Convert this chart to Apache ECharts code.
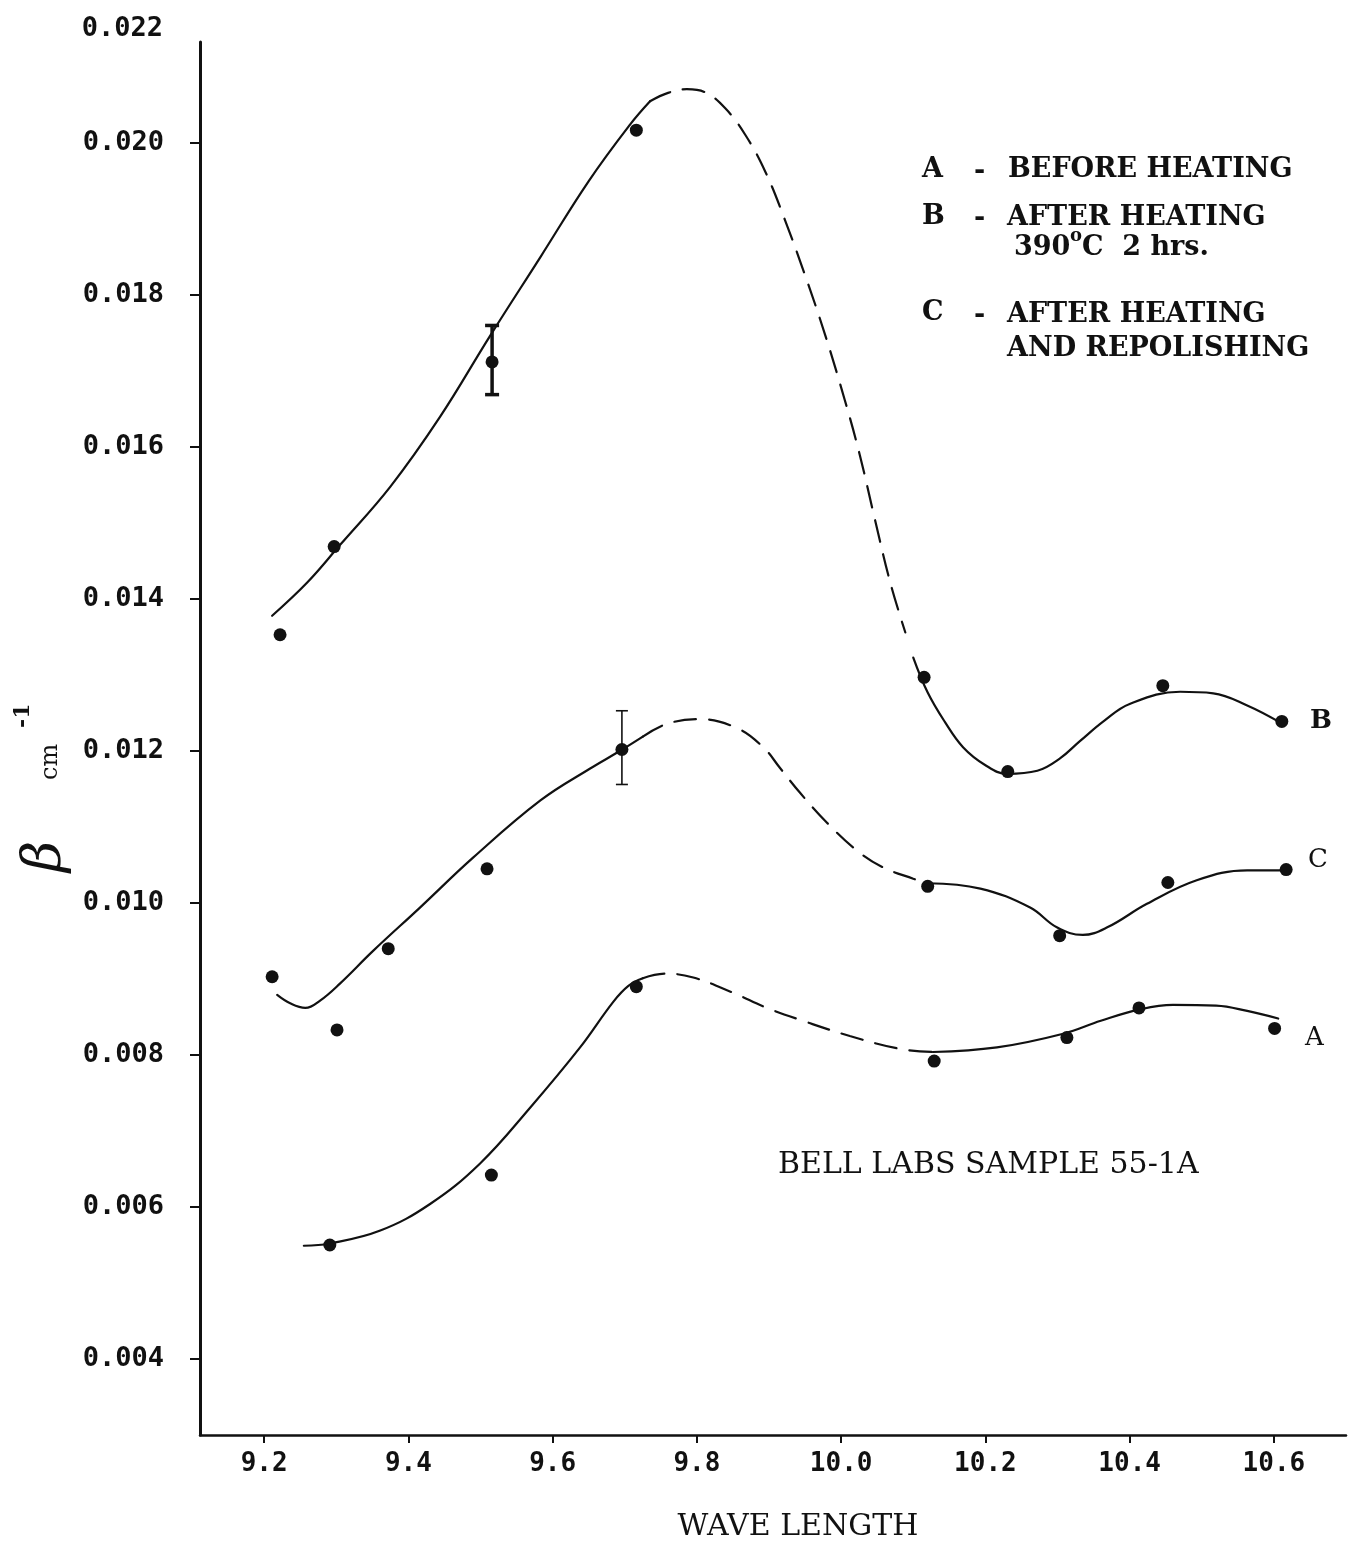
<!DOCTYPE html>
<html>
<head>
<meta charset="utf-8">
<script src="https://cdn.jsdelivr.net/npm/echarts@6/dist/echarts.min.js"></script>
<style>
  html, body { margin: 0; padding: 0; background: #fff; }
  #chart { width: 1352px; height: 1542px; }
</style>
</head>
<body>
<div id="chart"></div>
<script>
// Absorption coefficient β (cm^-1) against wave length, Bell Labs sample 55-1A

// axis ticks
const xTicks = [9.2, 9.4, 9.6, 9.8, 10.0, 10.2, 10.4, 10.6];
const yTicks = [0.004, 0.006, 0.008, 0.010, 0.012, 0.014, 0.016, 0.018, 0.020];
const yTopLabel = '0.022';

// measured points [wave length, β]
const pointsA = [[9.291, 0.00550], [9.515, 0.00642], [9.716, 0.00890], [10.129, 0.00792],
                 [10.313, 0.00823], [10.413, 0.00862], [10.601, 0.00835]];
const pointsB = [[9.222, 0.01353], [9.297, 0.01469], [9.516, 0.01712], [9.716, 0.02017],
                 [10.115, 0.01297], [10.231, 0.01173], [10.446, 0.01286], [10.611, 0.01239]];
const pointsC = [[9.211, 0.00903], [9.301, 0.00833], [9.372, 0.00940], [9.509, 0.01045],
                 [9.696, 0.01202], [10.120, 0.01022], [10.303, 0.00957], [10.453, 0.01027],
                 [10.617, 0.01044]];

// error bars [wave length, low, high]
const errorB = [[9.516, 0.01669, 0.01760]];
const errorC = [[9.696, 0.01156, 0.01253]];

// hand-fitted curves: solid where measured, dashed across the gap
const curveB1 = [[9.211, 0.01378], [9.260, 0.01422], [9.305, 0.01471], [9.375, 0.01548],
                 [9.444, 0.01640], [9.513, 0.01746], [9.583, 0.01850], [9.650, 0.01950],
                 [9.707, 0.02024], [9.735, 0.02055]];
const curveB2 = [[9.735, 0.02055], [9.760, 0.02066], [9.786, 0.02071], [9.811, 0.02067],
                 [9.839, 0.02046], [9.867, 0.02011], [9.895, 0.01962], [9.922, 0.01899],
                 [9.950, 0.01826], [9.978, 0.01747], [10.005, 0.01662], [10.026, 0.01589],
                 [10.047, 0.01504], [10.068, 0.01422], [10.089, 0.01356]];
const curveB3 = [[10.100, 0.01323], [10.120, 0.01277], [10.144, 0.01238], [10.169, 0.01205],
                 [10.199, 0.01182], [10.230, 0.01170], [10.272, 0.01174], [10.303, 0.01190],
                 [10.331, 0.01213], [10.365, 0.01240], [10.400, 0.01262], [10.470, 0.01278],
                 [10.516, 0.01276], [10.563, 0.01260], [10.608, 0.01238]];

const curveC1 = [[9.218, 0.00879], [9.236, 0.00868], [9.257, 0.00862], [9.278, 0.00872],
                 [9.305, 0.00894], [9.351, 0.00937], [9.416, 0.00994], [9.490, 0.01060],
                 [9.583, 0.01135], [9.652, 0.01177], [9.693, 0.01200], [9.725, 0.01219]];
const curveC2 = [[9.725, 0.01219], [9.759, 0.01236], [9.804, 0.01242], [9.856, 0.01230],
                 [9.892, 0.01205], [9.915, 0.01178], [9.943, 0.01145], [9.980, 0.01106],
                 [10.022, 0.01069], [10.058, 0.01047], [10.100, 0.01032], [10.120, 0.01026]];
const curveC3 = [[10.120, 0.01026], [10.193, 0.01019], [10.262, 0.00994], [10.299, 0.00968],
                 [10.335, 0.00958], [10.369, 0.00968], [10.424, 0.00999], [10.493, 0.01030],
                 [10.563, 0.01043], [10.613, 0.01043]];

const curveA1 = [[9.255, 0.00549], [9.291, 0.00552], [9.361, 0.00569], [9.430, 0.00604],
                 [9.499, 0.00657], [9.569, 0.00731], [9.638, 0.00810], [9.684, 0.00870],
                 [9.705, 0.00891], [9.725, 0.00901]];
const curveA2 = [[9.725, 0.00901], [9.756, 0.00907], [9.795, 0.00902], [9.850, 0.00882],
                 [9.897, 0.00862], [9.947, 0.00845], [10.012, 0.00825], [10.082, 0.00808],
                 [10.127, 0.00804]];
const curveA3 = [[10.127, 0.00804], [10.216, 0.00810], [10.308, 0.00828], [10.360, 0.00845],
                 [10.414, 0.00860], [10.460, 0.00866], [10.520, 0.00865], [10.563, 0.00858],
                 [10.606, 0.00848]];

const INK = '#111111';
const monoBold = '"DejaVu Sans Mono", monospace';
const serif = '"DejaVu Serif", serif';

function curve(data, dashed) {
  return {
    type: 'line', data, smooth: 0.4, symbol: 'none', silent: true, z: 2,
    lineStyle: { color: INK, width: 2.2, type: dashed ? [22, 13] : 'solid', cap: 'round' }
  };
}

function dots(data) {
  return {
    type: 'scatter', data, symbol: 'circle', symbolSize: 13, silent: true, z: 3,
    itemStyle: { color: INK, opacity: 1 }
  };
}

function errorBars(data, lineWidth, capHalf) {
  return {
    type: 'custom', data, silent: true, z: 4,
    encode: { x: 0, y: [1, 2] },
    renderItem: function (params, api) {
      const x = api.value(0);
      const lo = api.coord([x, api.value(1)]);
      const hi = api.coord([x, api.value(2)]);
      const style = { stroke: INK, lineWidth: lineWidth };
      return {
        type: 'group',
        children: [
          { type: 'line', shape: { x1: lo[0], y1: lo[1], x2: hi[0], y2: hi[1] }, style },
          { type: 'line', shape: { x1: lo[0] - capHalf, y1: lo[1], x2: lo[0] + capHalf, y2: lo[1] }, style },
          { type: 'line', shape: { x1: hi[0] - capHalf, y1: hi[1], x2: hi[0] + capHalf, y2: hi[1] }, style }
        ]
      };
    }
  };
}

function label(text, x, y, font, align) {
  return {
    type: 'text', x, y, silent: true,
    style: { text, font, fill: INK, verticalAlign: 'middle', align: align || 'left' }
  };
}

const legendFont = 'bold 27px ' + serif;

const chart = echarts.init(document.getElementById('chart'));
chart.setOption({
  animation: false,
  backgroundColor: '#fff',
  grid: { left: 200, right: 6, top: 42, bottom: 107 },
  xAxis: {
    type: 'value', min: 9.111, max: 10.7,
    splitLine: { show: false },
    axisLine: { lineStyle: { color: INK, width: 2.5 } },
    axisTick: { customValues: xTicks, length: 8, lineStyle: { color: INK, width: 2 } },
    axisLabel: {
      customValues: xTicks, margin: 16, color: INK,
      fontFamily: monoBold, fontWeight: 'bold', fontSize: 26,
      formatter: v => v.toFixed(1)
    }
  },
  yAxis: {
    type: 'value', min: 0.003, max: 0.02133,
    name: yTopLabel, nameLocation: 'end', nameGap: 0,
    nameTextStyle: {
      color: INK, fontFamily: monoBold, fontWeight: 'bold', fontSize: 27,
      align: 'right', padding: [0, 37, 0, 0]
    },
    splitLine: { show: false },
    axisLine: { lineStyle: { color: INK, width: 3 } },
    axisTick: { customValues: yTicks, length: 10, lineStyle: { color: INK, width: 2 } },
    axisLabel: {
      customValues: yTicks, margin: 36, color: INK,
      fontFamily: monoBold, fontWeight: 'bold', fontSize: 27,
      formatter: v => v.toFixed(3)
    }
  },
  series: [
    curve(curveB1, false), curve(curveB2, true), curve(curveB3, false),
    curve(curveC1, false), curve(curveC2, true), curve(curveC3, false),
    curve(curveA1, false), curve(curveA2, true), curve(curveA3, false),
    dots(pointsB), dots(pointsC), dots(pointsA),
    errorBars(errorB, 3.5, 7),
    errorBars(errorC, 1.6, 6)
  ],
  graphic: [
    // key
    label('A', 922, 170, legendFont),
    label('-', 974, 172, legendFont),
    label('BEFORE HEATING', 1008, 170, legendFont),
    label('B', 922, 217, legendFont),
    label('-', 974, 219, legendFont),
    label('AFTER HEATING', 1007, 218, legendFont),
    label('390', 1014, 248, legendFont),
    label('o', 1070, 236, 'bold 18px ' + serif),
    label('C  2 hrs.', 1082, 248, legendFont),
    label('C', 922, 313, legendFont),
    label('-', 974, 316, legendFont),
    label('AFTER HEATING', 1007, 315, legendFont),
    label('AND REPOLISHING', 1007, 349, legendFont),

    // curve tags
    label('B', 1310, 721, 'bold 26px ' + serif),
    label('C', 1308, 860, '26px ' + serif),
    label('A', 1305, 1038, '26px ' + serif),

    label('BELL LABS SAMPLE 55-1A', 778, 1165, '30px ' + serif),
    label('WAVE LENGTH', 798, 1527, '30px ' + serif, 'center'),

    // axis title β cm^-1, reading upward
    {
      type: 'group', x: 73, y: 872, rotation: Math.PI / 2, silent: true,
      children: [
        { type: 'text', x: 0, y: 0, style: { text: 'β', font: 'italic 54px ' + serif, fill: INK, verticalAlign: 'bottom' } },
        { type: 'text', x: 92, y: -10, style: { text: 'cm', font: '24px ' + serif, fill: INK, verticalAlign: 'bottom' } },
        { type: 'text', x: 144, y: -39, style: { text: '-1', font: 'bold 22px ' + serif, fill: INK, verticalAlign: 'bottom' } }
      ]
    }
  ]
});
</script>
</body>
</html>
